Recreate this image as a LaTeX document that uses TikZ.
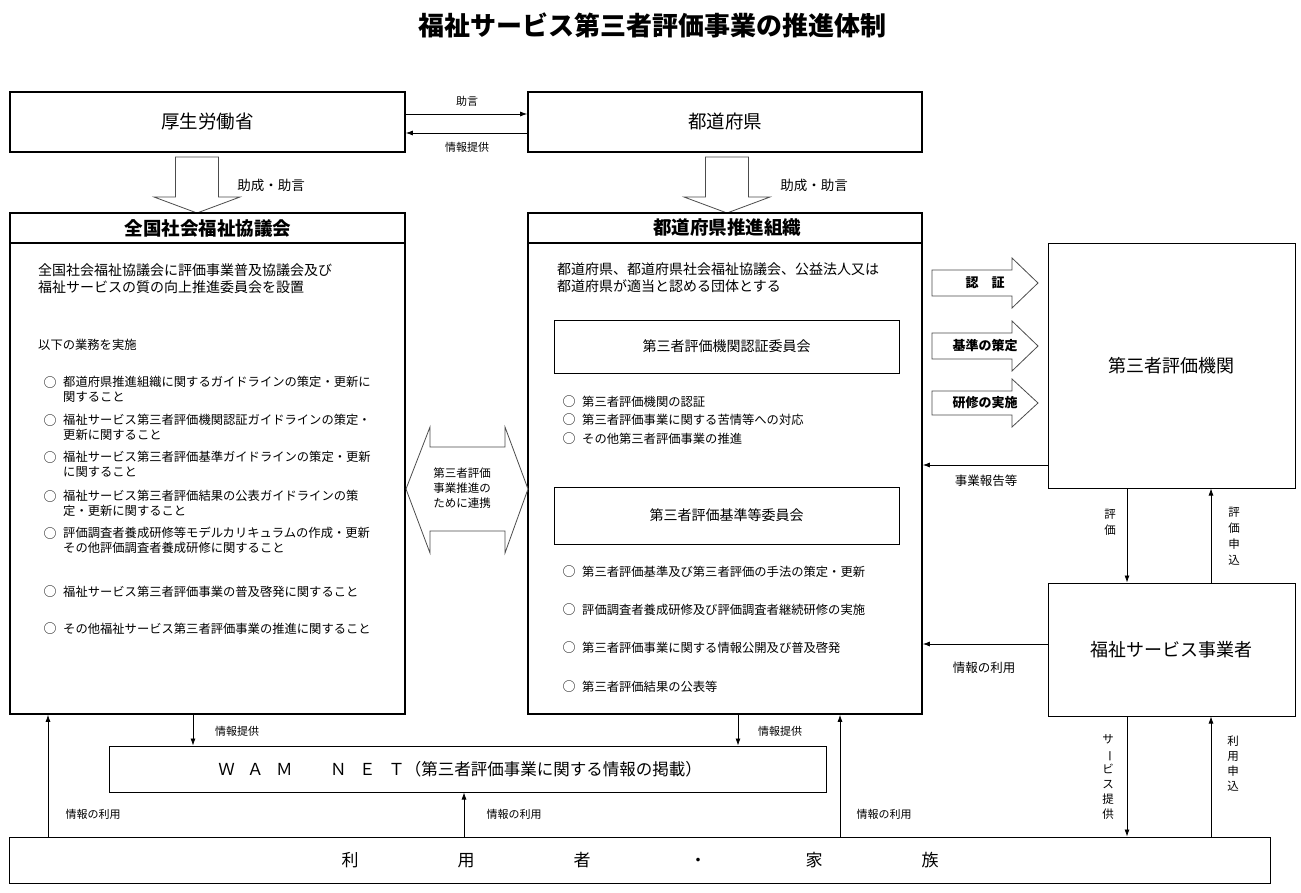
\documentclass[tikz,border=0pt]{standalone}
\usepackage{fontspec}
\setmainfont{Noto Sans CJK JP}
\usetikzlibrary{arrows.meta}
\newcommand\myfs[2]{\fontsize{#1}{#2}\selectfont}
\tikzset{
  mainbox/.style={draw, line width=1.6pt, rectangle, inner sep=0pt},
  innerbox/.style={draw, line width=0.9pt, rectangle, inner sep=0pt},
  arr/.style={-{Latex[length=7pt,width=5pt]}, line width=0.8pt},
  blk/.style={draw=black!70, line width=0.8pt, fill=white},
  lab/.style={inner sep=0pt, font=\myfs{11}{13}},
  midlab/.style={inner sep=0pt, font=\myfs{13.5}{16}},
  blab/.style={inner sep=0pt, font=\bfseries\myfs{13}{15}},
  vlab/.style={inner sep=0pt, align=center, font=\myfs{11.5}{16}},
  para/.style={inner sep=0pt, anchor=west, align=left, font=\myfs{14}{17}},
  item/.style={inner sep=0pt, anchor=west, align=left, font=\myfs{12.3}{15.5}},
  bul/.style={inner sep=0pt, font=\myfs{13}{15.5}},
  head/.style={inner sep=0pt, font=\bfseries\myfs{18.5}{21}},
  big/.style={inner sep=0pt, font=\myfs{18.5}{22}}
}
\begin{document}
\begin{tikzpicture}[x=1pt,y=-1pt]
\useasboundingbox (0,0) rectangle (1301,893);
\fill[white] (0,0) rectangle (1301,893);

% title
\node[inner sep=0pt, font=\bfseries\myfs{26}{30}] (title) at (652,25) {福祉サービス第三者評価事業の推進体制};

% top boxes
\node[mainbox, minimum width=395pt, minimum height=60pt, font=\myfs{18.5}{22}] (mhlw) at (207.5,122) {厚生労働省};
\node[mainbox, minimum width=394pt, minimum height=60pt, font=\myfs{18.5}{22}] (pref) at (725,122) {都道府県};

\draw[arr] (mhlw.east |- 0,114) -- (pref.west |- 0,114);
\draw[arr] (pref.west |- 0,133) -- (mhlw.east |- 0,133);
\node[lab] (l1) at (467,101) {助言};
\node[lab] (l2) at (467,147) {情報提供};

% down block arrows
\draw[blk] (175.5,157) -- (218.5,157) -- (218.5,197) -- (240,197) -- (197,213) -- (154,197) -- (175.5,197) -- cycle;
\draw[blk] (705.5,157) -- (748.5,157) -- (748.5,197) -- (770,197) -- (727,213) -- (684,197) -- (705.5,197) -- cycle;
\node[midlab] (l3) at (271,185) {助成・助言};
\node[midlab] (l4) at (814,185) {助成・助言};

% big boxes
\node[mainbox, minimum width=395pt, minimum height=501pt] (zen) at (207.5,463.5) {};
\node[mainbox, minimum width=394pt, minimum height=501pt] (sui) at (725,463.5) {};
\draw[line width=1.6pt] (zen.west |- 0,243) -- (zen.east |- 0,243);
\draw[line width=1.6pt] (sui.west |- 0,243) -- (sui.east |- 0,243);
\node[head] (zenh) at (208,228) {全国社会福祉協議会};
\node[head] (suih) at (727,228) {都道府県推進組織};

% left body
\node[para] (zp) at (38,279) {全国社会福祉協議会に評価事業普及協議会及び\\福祉サービスの質の向上推進委員会を設置};
\node[item] (zq) at (38,345) {以下の業務を実施};
\node[bul] (b1) at (50,383) {○};
\node[item, anchor=north west] (i1) at (63,375.5) {都道府県推進組織に関するガイドラインの策定・更新に\\関すること};
\node[bul] (b2) at (50,421) {○};
\node[item, anchor=north west] (i2) at (63,413.5) {福祉サービス第三者評価機関認証ガイドラインの策定・\\更新に関すること};
\node[bul] (b3) at (50,458) {○};
\node[item, anchor=north west] (i3) at (63,450.5) {福祉サービス第三者評価基準ガイドラインの策定・更新\\に関すること};
\node[bul] (b4) at (50,497) {○};
\node[item, anchor=north west] (i4) at (63,489.5) {福祉サービス第三者評価結果の公表ガイドラインの策\\定・更新に関すること};
\node[bul] (b5) at (50,534) {○};
\node[item, anchor=north west] (i5) at (63,526.5) {評価調査者養成研修等モデルカリキュラムの作成・更新\\その他評価調査者養成研修に関すること};
\node[bul] (b6) at (50,592) {○};
\node[item] (i6) at (63,592) {福祉サービス第三者評価事業の普及啓発に関すること};
\node[bul] (b7) at (50,629) {○};
\node[item] (i7) at (63,629) {その他福祉サービス第三者評価事業の推進に関すること};

% middle body
\node[para] (sp) at (557,278) {都道府県、都道府県社会福祉協議会、公益法人又は\\都道府県が適当と認める団体とする};
\node[innerbox, minimum width=345pt, minimum height=53pt, font=\myfs{14}{17}] (c1) at (726.5,346.5) {第三者評価機関認証委員会};
\node[bul] (m1) at (569,402) {○};
\node[item] (j1) at (582,402) {第三者評価機関の認証};
\node[bul] (m2) at (569,420) {○};
\node[item] (j2) at (582,420) {第三者評価事業に関する苦情等への対応};
\node[bul] (m3) at (569,439) {○};
\node[item] (j3) at (582,439) {その他第三者評価事業の推進};
\node[innerbox, minimum width=345pt, minimum height=57pt, font=\myfs{14}{17}] (c2) at (726.5,515.5) {第三者評価基準等委員会};
\node[bul] (m4) at (569,572) {○};
\node[item] (j4) at (582,572) {第三者評価基準及び第三者評価の手法の策定・更新};
\node[bul] (m5) at (569,610) {○};
\node[item] (j5) at (582,610) {評価調査者養成研修及び評価調査者継続研修の実施};
\node[bul] (m6) at (569,648) {○};
\node[item] (j6) at (582,648) {第三者評価事業に関する情報公開及び普及啓発};
\node[bul] (m7) at (569,687) {○};
\node[item] (j7) at (582,687) {第三者評価結果の公表等};

% double arrow between
\draw[blk] (406,489) -- (430,427) -- (430,447) -- (505,447) -- (505,427) -- (528,489) -- (505,553) -- (505,531) -- (430,531) -- (430,553) -- cycle;
\node[inner sep=0pt, align=center, font=\myfs{11.5}{15}] (ren) at (462,488) {第三者評価\\事業推進の\\ために連携};

% right column
\node[mainbox, line width=1pt, minimum width=247pt, minimum height=244pt, font=\myfs{18}{22}] (kikan) at (1171.5,366) {第三者評価機関};
\node[mainbox, line width=1pt, minimum width=247pt, minimum height=133pt, font=\myfs{18}{22}] (jig) at (1171.5,649.5) {福祉サービス事業者};

\draw[blk] (932,270) -- (1012,270) -- (1012,258) -- (1038,283) -- (1012,308) -- (1012,296) -- (932,296) -- cycle;
\draw[blk] (932,333) -- (1012,333) -- (1012,321) -- (1038,346) -- (1012,371) -- (1012,359) -- (932,359) -- cycle;
\draw[blk] (932,391) -- (1012,391) -- (1012,379) -- (1038,403) -- (1012,427) -- (1012,415) -- (932,415) -- cycle;
\node[blab] (a1) at (985,283) {認　証};
\node[blab] (a2) at (985,346) {基準の策定};
\node[blab] (a3) at (985,403) {研修の実施};

\draw[arr] (kikan.west |- 0,465) -- (sui.east |- 0,465);
\node[lab, font=\myfs{12.5}{14}] (l5) at (986,481) {事業報告等};
\draw[arr] (jig.west |- 0,644) -- (sui.east |- 0,644);
\node[lab, font=\myfs{12.5}{14}] (l6) at (984,668) {情報の利用};

\draw[arr] (kikan.south -| 1127,0) -- (jig.north -| 1127,0);
\draw[arr] (jig.north -| 1211,0) -- (kikan.south -| 1211,0);
\node[vlab] (v1) at (1110,522) {評\\価};
\node[vlab] (v2) at (1234,536) {評\\価\\申\\込};

% bottom
\node[mainbox, line width=1pt, minimum width=717pt, minimum height=46pt] (wam) at (467.5,769) {};
\node[inner sep=0pt, font=\myfs{16.5}{20}] (wamt) at (460,769) {Ｗ\hspace{12.5pt}Ａ\hspace{12.5pt}Ｍ\hspace{37.5pt}Ｎ\hspace{12.5pt}Ｅ\hspace{12.5pt}Ｔ（第三者評価事業に関する情報の掲載）};
\node[mainbox, line width=1pt, minimum width=1261pt, minimum height=46pt, font=\myfs{17}{20}] (riyo) at (640,860) {利\hspace{99pt}用\hspace{99pt}者\hspace{99pt}・\hspace{99pt}家\hspace{99pt}族};

\draw[arr] (zen.south -| 193,0) -- (wam.north -| 193,0);
\node[lab] (l7) at (237,731) {情報提供};
\draw[arr] (sui.south -| 738,0) -- (wam.north -| 738,0);
\node[lab] (l8) at (780,731) {情報提供};
\draw[arr] (riyo.north -| 48,0) -- (zen.south -| 48,0);
\node[lab] (l9) at (93,814) {情報の利用};
\draw[arr] (riyo.north -| 464,0) -- (wam.south -| 464,0);
\node[lab] (l10) at (514,814) {情報の利用};
\draw[arr] (riyo.north -| 840,0) -- (sui.south -| 840,0);
\node[lab] (l11) at (884,814) {情報の利用};

\draw[arr] (jig.south -| 1127,0) -- (riyo.north -| 1127,0);
\draw[arr] (riyo.north -| 1211,0) -- (jig.south -| 1211,0);
\node[vlab, font=\myfs{11.5}{15}] (v3) at (1108,777) {サ\\\rotatebox[origin=c]{-90}{ー}\\ビ\\ス\\提\\供};
\node[vlab, font=\myfs{11.5}{15}] (v4) at (1233,764) {利\\用\\申\\込};
\end{tikzpicture}
\end{document}
